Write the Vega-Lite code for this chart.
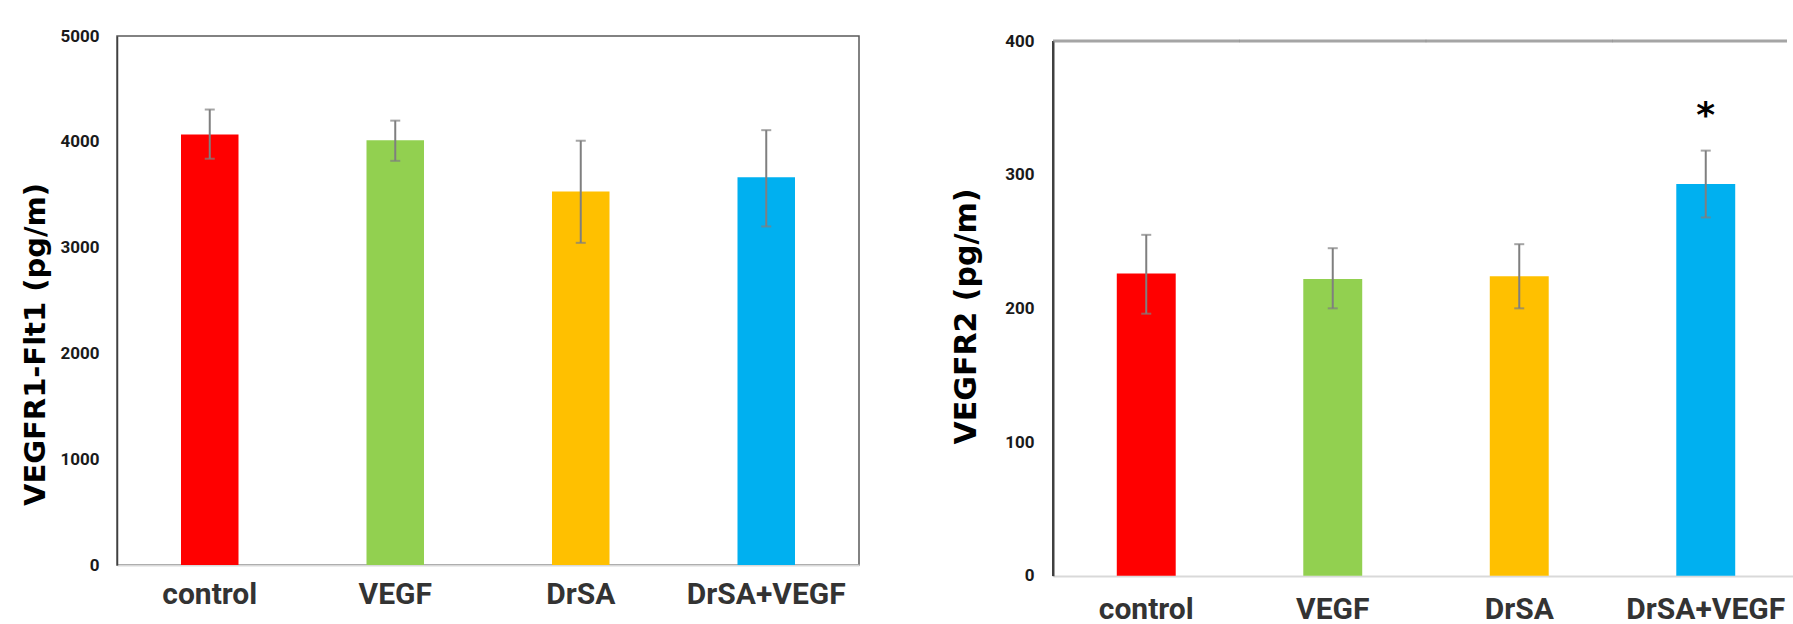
{
  "$schema": "https://vega.github.io/schema/vega-lite/v6.json",
  "background": "white",
  "padding": {"left": 21, "top": 26, "right": 0, "bottom": 0},
  "spacing": 90,
  "config": {
    "view": {"stroke": null},
    "axis": {"labelColor": "#1a1a1a", "titleColor": "#000000", "ticks": false, "grid": false}
  },
  "datasets": {
    "r1": [
      {"group": "control", "mean": 4070, "low": 3840, "high": 4305},
      {"group": "VEGF", "mean": 4015, "low": 3820, "high": 4200},
      {"group": "DrSA", "mean": 3530, "low": 3045, "high": 4010},
      {"group": "DrSA+VEGF", "mean": 3665, "low": 3200, "high": 4110}
    ],
    "r2": [
      {"group": "control", "mean": 226, "low": 196, "high": 255, "sig": ""},
      {"group": "VEGF", "mean": 222, "low": 200, "high": 245, "sig": ""},
      {"group": "DrSA", "mean": 224, "low": 200, "high": 248, "sig": ""},
      {"group": "DrSA+VEGF", "mean": 293, "low": 268, "high": 318, "sig": "*"}
    ]
  },
  "hconcat": [
    {
      "width": 742,
      "height": 529,
      "data": {"name": "r1"},
      "view": {"stroke": "#595959", "strokeWidth": 1.5},
      "encoding": {
        "x": {
          "field": "group", "type": "nominal", "sort": null,
          "scale": {"paddingInner": 0.69, "paddingOuter": 0.345},
          "axis": {"title": null, "labelAngle": 0, "labelFont": "Roboto", "labelFontSize": 30, "labelFontWeight": "bold", "labelPadding": 14, "domainColor": "#d9d9d9", "domainWidth": 2, "labelColor": "#333333"}
        }
      },
      "layer": [
        {
          "mark": {"type": "bar"},
          "encoding": {
            "y": {"field": "mean", "type": "quantitative", "title": "VEGFR1-Flt1 (pg/m)",
              "scale": {"domain": [0, 5000], "nice": false},
              "axis": {"values": [0, 1000, 2000, 3000, 4000, 5000], "format": "d", "labelFont": "Roboto", "labelFontSize": 17, "labelFontWeight": "bold", "labelPadding": 18, "domainColor": "#404040", "domainWidth": 1.5, "titleFont": "DejaVu Sans", "titleFontSize": 29, "titleFontWeight": "bold", "titlePadding": 9, "titleY": 308}},
            "color": {"field": "group", "type": "nominal", "legend": null,
              "scale": {"domain": ["control", "VEGF", "DrSA", "DrSA+VEGF"], "range": ["#ff0000", "#92d050", "#ffc000", "#00b0f0"]}}
          }
        },
        {
          "mark": {"type": "rule", "color": "#7f7f7f", "strokeWidth": 2},
          "encoding": {"y": {"field": "low", "type": "quantitative", "title": "VEGFR1-Flt1 (pg/m)"}, "y2": {"field": "high"}}
        },
        {
          "mark": {"type": "tick", "color": "#7f7f7f", "thickness": 2, "size": 10},
          "encoding": {"y": {"field": "low", "type": "quantitative", "title": "VEGFR1-Flt1 (pg/m)"}}
        },
        {
          "mark": {"type": "tick", "color": "#7f7f7f", "thickness": 2, "size": 10},
          "encoding": {"y": {"field": "high", "type": "quantitative", "title": "VEGFR1-Flt1 (pg/m)"}}
        }
      ]
    },
    {
      "width": 734,
      "height": 540,
      "data": {"name": "r2"},
      "view": {"stroke": "#404040", "strokeWidth": 2, "strokeDash": [0, 2008, 535, 5]},
      "encoding": {
        "x": {
          "field": "group", "type": "nominal", "sort": null,
          "scale": {"paddingInner": 0.684, "paddingOuter": 0.342, "range": [0, 746]},
          "axis": {"title": null, "labelAngle": 0, "labelFont": "Roboto", "labelFontSize": 30, "labelFontWeight": "bold", "labelPadding": 42, "labelBaseline": "alphabetic", "domainColor": "#d9d9d9", "domainWidth": 2, "labelColor": "#333333"}
        },
        "y": {"type": "quantitative", "title": "VEGFR2 (pg/m)",
          "scale": {"domain": [0, 400], "nice": false, "range": [539.7, 5]},
          "axis": {"values": [0, 100, 200, 300, 400], "format": "d", "domain": true, "labelFont": "Roboto", "labelFontSize": 17, "labelFontWeight": "bold", "labelPadding": 19, "domainColor": "#404040", "domainWidth": 2, "titleFont": "DejaVu Sans", "titleFontSize": 30, "titleFontWeight": "bold", "titlePadding": 23, "titleY": 280}}
      },
      "layer": [
        {
          "mark": {"type": "tick", "color": "#7f7f7f", "thickness": 3, "size": 187, "clip": true},
          "encoding": {"y": {"datum": 400}}
        },
        {
          "mark": {"type": "bar"},
          "encoding": {
            "y": {"field": "mean"},
            "color": {"field": "group", "type": "nominal", "legend": null,
              "scale": {"domain": ["control", "VEGF", "DrSA", "DrSA+VEGF"], "range": ["#ff0000", "#92d050", "#ffc000", "#00b0f0"]}}
          }
        },
        {
          "mark": {"type": "rule", "color": "#7f7f7f", "strokeWidth": 2},
          "encoding": {"y": {"field": "low"}, "y2": {"field": "high"}}
        },
        {
          "mark": {"type": "tick", "color": "#7f7f7f", "thickness": 2, "size": 10},
          "encoding": {"y": {"field": "low"}}
        },
        {
          "mark": {"type": "tick", "color": "#7f7f7f", "thickness": 2, "size": 10},
          "encoding": {"y": {"field": "high"}}
        },
        {
          "transform": [{"filter": "datum.sig != ''"}],
          "mark": {"type": "text", "font": "DejaVu Sans", "fontWeight": "bold", "fontSize": 36, "color": "#000000", "baseline": "alphabetic", "dy": -24},
          "encoding": {"y": {"field": "high"}, "text": {"field": "sig"}}
        }
      ]
    }
  ]
}
